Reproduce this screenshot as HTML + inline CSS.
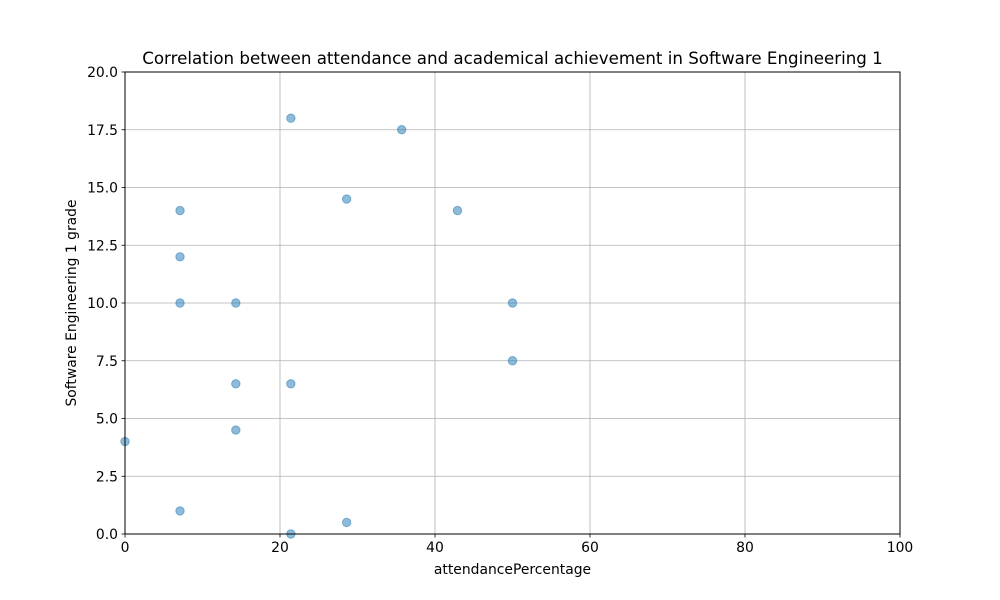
<!DOCTYPE html>
<html><head><meta charset="utf-8"><style>
body{margin:0;background:#fff;}
svg{display:block;font-family:"DejaVu Sans","Liberation Sans",sans-serif;}
</style></head><body>
<svg id="chart" width="1000" height="600" xmlns="http://www.w3.org/2000/svg">
<rect width="1000" height="600" fill="#fff"/>
<g id="grid"></g>
<g id="pts"></g>
<rect x="125" y="72" width="775" height="462" fill="none" stroke="#000" stroke-width="1"/>
<g id="ticks"></g>
<text x="512.5" y="64" text-anchor="middle" font-size="16.67">Correlation between attendance and academical achievement in Software Engineering 1</text>
<text x="512.5" y="574" text-anchor="middle" font-size="13.9">attendancePercentage</text>
<text x="0" y="0" transform="translate(76,303) rotate(-90)" text-anchor="middle" font-size="13.9">Software Engineering 1 grade</text>
</svg>
<script>
const xVals=[21.4,35.7,28.6,42.9,7.1,7.1,7.1,14.3,50,50,14.3,21.4,14.3,0,7.1,28.6,21.4];
const yVals=[18,17.5,14.5,14,14,12,10,10,10,7.5,6.5,6.5,4.5,4,1,0.5,0];
const xTicks=[0,20,40,60,80,100];
const yTicks=[0,2.5,5,7.5,10,12.5,15,17.5,20];
const yTickLabels=["0.0","2.5","5.0","7.5","10.0","12.5","15.0","17.5","20.0"];
const L=125,R=900,T=72,B=534;
function xs(v){return L+(v-0)/(100-0)*(R-L);}
function ys(v){return B-(v-0)/(20-0)*(B-T);}
const NS="http://www.w3.org/2000/svg";
const grid=document.getElementById('grid'),tk=document.getElementById('ticks'),pts=document.getElementById('pts');
function mk(tag,attrs,parent){const e=document.createElementNS(NS,tag);for(const k in attrs)e.setAttribute(k,attrs[k]);parent.appendChild(e);return e;}
xTicks.forEach(function(t){
  const x=xs(t);
  const g=mk('line',{x1:x,x2:x,y1:T,y2:B,stroke:'#b0b0b0','stroke-width':0.8},grid);
  
  
  const m=mk('line',{x1:x,x2:x,y1:B,y2:B+3.5,stroke:'#000','stroke-width':0.8},tk);
  
  
  const l=mk('text',{x:x,y:B+18,'text-anchor':'middle','font-size':13.9},tk);
  l.textContent=t;
  
  
});
yTicks.forEach(function(t,i){
  const y=ys(t);
  const g=mk('line',{x1:L,x2:R,y1:y,y2:y,stroke:'#b0b0b0','stroke-width':0.8},grid);
  
  
  const m=mk('line',{x1:L-3.5,x2:L,y1:y,y2:y,stroke:'#000','stroke-width':0.8},tk);
  
  
  const l=mk('text',{x:L-7,y:y+5,'text-anchor':'end','font-size':13.9},tk);
  l.textContent=yTickLabels[i];
  
  
});
xVals.forEach(function(v,i){
  const c=mk('circle',{cx:xs(v),cy:ys(yVals[i]),r:4.2,fill:'#1f77b4','fill-opacity':0.5,stroke:'#1f77b4','stroke-opacity':0.5,'stroke-width':1},pts);
  
  
});
</script>
</body></html>
